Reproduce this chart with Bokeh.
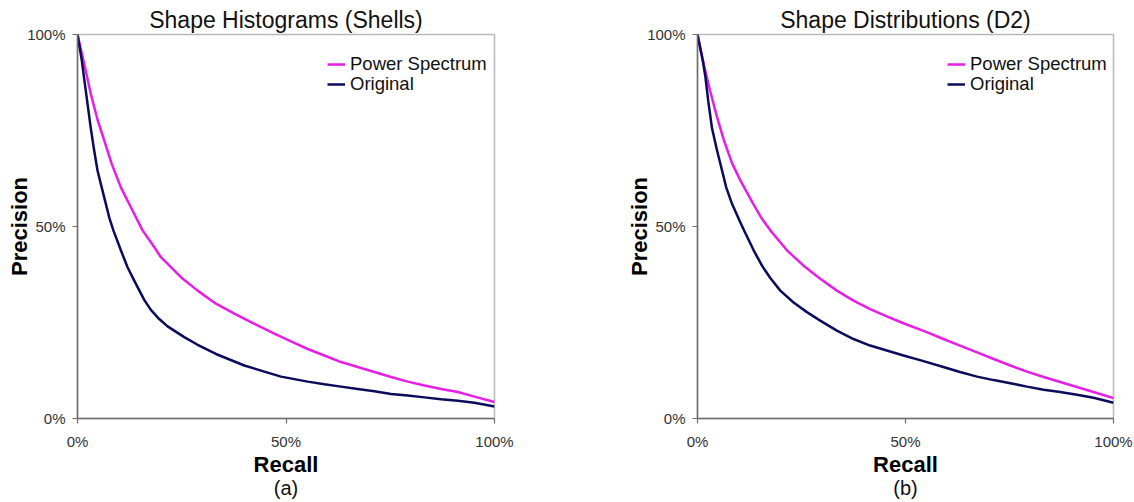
from bokeh.plotting import figure
from bokeh.layouts import row
from bokeh.models import (Range1d, FixedTicker, PrintfTickFormatter, Legend,
                          LegendItem, Title)
from bokeh.embed import file_html
from bokeh.resources import INLINE

# Precision / recall curves (values in percent)
shells_ps_recall = [0, 1.6, 3.2, 4.8, 6.4, 8.2, 10.4, 12.8, 15.6, 18.1, 20.0, 22.4,
                    24.8, 28.8, 33.2, 37.6, 41.6, 47.2, 51.2, 55.2, 59.2, 63.2, 67.2,
                    71.2, 75.2, 79.2, 83.2, 87.2, 91.2, 95.2, 100]
shells_ps_precision = [100, 92.4, 84.5, 77.8, 72.4, 66.3, 60.2, 55.0, 49.0, 45.1, 42.0,
                       39.4, 36.8, 33.3, 29.9, 27.3, 25.1, 22.1, 20.1, 18.1, 16.4, 14.7,
                       13.4, 12.1, 10.8, 9.6, 8.6, 7.7, 6.9, 5.7, 4.3]
shells_orig_recall = [0, 1.0, 1.6, 2.4, 3.2, 4.0, 4.8, 5.8, 6.8, 7.6, 8.6, 10.4, 12.0,
                      13.6, 16.0, 17.6, 19.6, 21.6, 25.6, 28.8, 33.2, 40.0, 48.8, 55.2,
                      59.2, 63.2, 67.2, 71.2, 75.2, 79.2, 83.2, 87.2, 91.2, 95.2, 100]
shells_orig_precision = [100, 93.5, 88.5, 82.0, 75.5, 69.8, 64.6, 60.2, 55.9, 52.4, 49.0,
                         43.8, 39.4, 35.9, 30.9, 28.3, 25.9, 24.0, 21.2, 19.2, 16.8, 13.8,
                         10.9, 9.6, 8.9, 8.3, 7.7, 7.1, 6.4, 6.0, 5.5, 5.0, 4.6, 4.1, 3.1]

d2_ps_recall = [0, 1.6, 3.0, 4.7, 6.3, 8.3, 10.3, 13.5, 15.5, 17.5, 19.5, 21.5, 25.5,
                29.5, 33.5, 37.5, 41.5, 45.5, 49.5, 55.1, 59.1, 63.1, 67.2, 71.2, 75.2,
                79.2, 83.2, 87.2, 91.2, 95.2, 100]
d2_ps_precision = [100, 91.8, 85.5, 78.5, 72.6, 66.5, 62.0, 55.7, 52.0, 49.0, 46.4, 43.8,
                   39.8, 36.4, 33.3, 30.7, 28.5, 26.6, 24.8, 22.5, 20.7, 19.0, 17.2, 15.5,
                   13.8, 12.2, 10.8, 9.5, 8.2, 6.9, 5.3]
d2_orig_recall = [0, 1.3, 1.9, 2.6, 3.5, 4.7, 5.9, 6.9, 8.3, 9.9, 11.0, 13.5, 15.5, 17.5,
                  19.9, 23.1, 26.3, 29.5, 33.5, 37.5, 41.5, 45.5, 49.5, 53.5, 59.1, 63.1,
                  67.2, 71.2, 75.2, 79.2, 83.2, 87.2, 91.2, 95.2, 100]
d2_orig_precision = [100, 93.0, 89.0, 82.5, 75.5, 69.8, 64.6, 60.2, 55.9, 52.0, 49.4, 43.8,
                     39.8, 36.6, 33.3, 30.2, 27.7, 25.5, 22.9, 20.7, 19.0, 17.7, 16.4, 15.2,
                     13.4, 12.1, 10.9, 10.0, 9.2, 8.3, 7.5, 6.9, 6.2, 5.4, 4.1]

tick_values = [0, 50, 100]
series_names = ["Power Spectrum", "Original"]
series_colors = ["#e61ee6", "#0b0b5c"]

FONT = "Liberation Sans"


def legend_entry(label, renderer, y):
    # one single-row legend per series, so the row spacing can be set exactly
    return Legend(items=[LegendItem(label=label, renderers=[renderer])],
                  location=(245, y), orientation="vertical",
                  glyph_width=18, glyph_height=18, label_height=18,
                  label_standoff=5, spacing=0, padding=5, margin=0,
                  border_line_alpha=0, background_fill_alpha=0,
                  label_text_font=FONT, label_text_font_size="18.5px",
                  label_text_color="#111111")


def make_panel(title, caption, ps_x, ps_y, or_x, or_y, border_left, border_right):
    p = figure(width=567, height=502, output_backend="svg", toolbar_location=None,
               x_range=Range1d(0, 100), y_range=Range1d(0, 100),
               min_border_left=border_left, min_border_right=border_right,
               min_border_top=34, min_border_bottom=84)
    p.background_fill_color = "white"
    p.border_fill_color = "white"
    p.outline_line_color = "#b8b8b8"
    p.outline_line_width = 1.5
    p.xgrid.visible = False
    p.ygrid.visible = False

    p.title.text = title
    p.title.align = "center"
    p.title.text_font = FONT
    p.title.text_font_size = "23px"
    p.title.text_font_style = "normal"
    p.title.text_color = "#111111"
    p.title.standoff = 3

    for ax in (p.xaxis[0], p.yaxis[0]):
        ax.ticker = FixedTicker(ticks=tick_values)
        ax.formatter = PrintfTickFormatter(format="%d%%")
        ax.minor_tick_line_color = None
        ax.major_tick_in = 0
        ax.major_tick_out = 5
        ax.axis_line_color = "#6e6e6e"
        ax.axis_line_width = 1.5
        ax.major_tick_line_color = "#6e6e6e"
        ax.major_tick_line_width = 1.2
        ax.major_label_text_font = FONT
        ax.major_label_text_font_size = "15px"
        ax.major_label_text_color = "#333333"
        ax.axis_label_text_font = FONT
        ax.axis_label_text_font_size = "22px"
        ax.axis_label_text_font_style = "bold"
        ax.axis_label_text_color = "black"

    p.xaxis.axis_label = "Recall"
    p.yaxis.axis_label = "Precision"
    p.xaxis.major_label_standoff = 9
    p.xaxis.axis_label_standoff = -1
    p.yaxis.major_label_standoff = 7
    p.yaxis.axis_label_standoff = -8
    p.yaxis.major_label_orientation = "horizontal"

    r_ps = p.line(ps_x, ps_y, line_color=series_colors[0], line_width=2.5,
                  line_join="round")
    r_or = p.line(or_x, or_y, line_color=series_colors[1], line_width=2.5,
                  line_join="round")

    p.add_layout(legend_entry(series_names[0], r_ps, 338))
    p.add_layout(legend_entry(series_names[1], r_or, 318))

    cap = Title(text=caption, align="center", text_font=FONT,
                text_font_size="20px", text_font_style="normal",
                text_color="#111111", standoff=-5, offset=0,
                vertical_align="top")
    p.add_layout(cap, "below")
    return p


p1 = make_panel("Shape Histograms (Shells)", "(a)",
                shells_ps_recall, shells_ps_precision,
                shells_orig_recall, shells_orig_precision, 77, 73)
p2 = make_panel("Shape Distributions (D2)", "(b)",
                d2_ps_recall, d2_ps_precision,
                d2_orig_recall, d2_orig_precision, 130, 21)

layout = row(p1, p2)
open("out.html", "w").write(file_html(layout, INLINE))
